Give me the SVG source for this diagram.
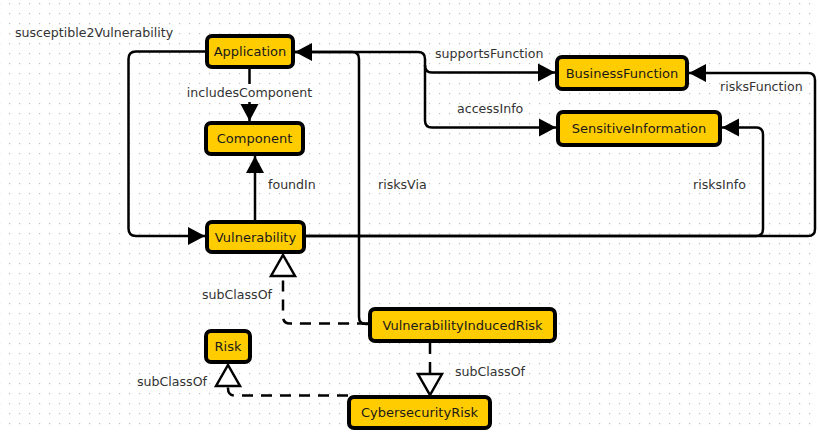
<svg xmlns="http://www.w3.org/2000/svg" width="818" height="433" viewBox="0 0 818 433">
<style>
.node rect{fill:#FFCC00;stroke:#000;stroke-width:4}
.node text{font-family:"DejaVu Sans",Verdana,sans-serif;font-size:13px;fill:#1a1a1a;text-anchor:middle;dominant-baseline:central}
.edge{fill:none;stroke:#000;stroke-width:2.5}
.dash{stroke-dasharray:11 8}
.lbl{font-family:"DejaVu Sans",Verdana,sans-serif;font-size:12.6px;fill:#333}
</style>
<defs>
<pattern id="grid" patternUnits="userSpaceOnUse" x="9" y="13" width="10" height="10">
<rect x="0" y="0" width="1.2" height="1.2" fill="#bdbdbd"/>
</pattern>
<marker id="arr" markerUnits="userSpaceOnUse" markerWidth="18" markerHeight="18" refX="17" refY="9" orient="auto" overflow="visible">
<path d="M0,0 L17,9 L0,18 z" fill="#000"/>
</marker>
<marker id="tri" markerUnits="userSpaceOnUse" markerWidth="24" markerHeight="26" refX="21" refY="12" orient="auto" overflow="visible">
<path d="M0,0 L21,12 L0,24 z" fill="#fff" stroke="#000" stroke-width="2.5" stroke-linejoin="miter"/>
</marker>
</defs>
<rect width="818" height="433" fill="#fff"/>
<rect width="818" height="433" fill="url(#grid)"/>

<g id="connectors">
<g id="e-susceptible2Vulnerability">
<path class="edge" d="M207,51.5 H136 Q128.5,51.5 128.5,59 V228.5 Q128.5,236 136,236 H205" marker-end="url(#arr)"/>
<text class="lbl" x="15" y="37">susceptible2Vulnerability</text>
</g>
<g id="e-includesComponent">
<path class="edge" d="M249.5,69 V121" marker-end="url(#arr)"/>
<rect x="185" y="84" width="129" height="18" fill="#fff"/>
<text class="lbl" x="249.5" y="97" text-anchor="middle">includesComponent</text>
</g>
<g id="e-foundIn">
<path class="edge" d="M255,220 V156" marker-end="url(#arr)"/>
<text class="lbl" x="268" y="189">foundIn</text>
</g>
<g id="e-risksVia">
<path class="edge" d="M369,324 H366 Q359,324 359,317 V59 Q359,52 352,52 H295" marker-end="url(#arr)"/>
<text class="lbl" x="378" y="189">risksVia</text>
</g>
<g id="e-supportsFunction">
<path class="edge" d="M295,52 H418 Q425,52 425,59 V65.5 Q425,72.5 432,72.5 H555" marker-end="url(#arr)"/>
<text class="lbl" x="435" y="58">supportsFunction</text>
</g>
<g id="e-accessInfo">
<path class="edge" d="M425,65 V120.5 Q425,127.5 432,127.5 H556" marker-end="url(#arr)"/>
<text class="lbl" x="457" y="113">accessInfo</text>
</g>
<g id="e-risksFunction">
<path class="edge" d="M306,236 H808 Q815,236 815,229 V80 Q815,73 808,73 H689" marker-end="url(#arr)"/>
<text class="lbl" x="720" y="91">risksFunction</text>
</g>
<g id="e-risksInfo">
<path class="edge" d="M306,236 H756 Q763,236 763,229 V134.5 Q763,127.5 756,127.5 H722" marker-end="url(#arr)"/>
<text class="lbl" x="693" y="189">risksInfo</text>
</g>
<g id="e-subClassOf-1">
<path class="edge dash" d="M368,323.5 H290 Q283,323.5 283,316.5 V255" marker-end="url(#tri)"/>
<text class="lbl" x="202" y="299">subClassOf</text>
</g>
<g id="e-subClassOf-2">
<path class="edge dash" d="M430,343 V395" marker-end="url(#tri)"/>
<text class="lbl" x="455" y="376">subClassOf</text>
</g>
<g id="e-subClassOf-3">
<path class="edge dash" d="M348,395.5 H235 Q228,395.5 228,388.5 V365" marker-end="url(#tri)"/>
<text class="lbl" x="137" y="386">subClassOf</text>
</g>
</g>

<g id="n-Application" class="node"><rect x="207" y="36" width="86" height="31" rx="5"/><text x="250" y="51.5">Application</text></g>
<g id="n-Component" class="node"><rect x="206" y="123" width="97" height="31" rx="5"/><text x="254.5" y="138.5">Component</text></g>
<g id="n-Vulnerability" class="node"><rect x="207" y="222" width="97" height="30" rx="5"/><text x="255.5" y="237">Vulnerability</text></g>
<g id="n-BusinessFunction" class="node"><rect x="557" y="57" width="130" height="32" rx="5"/><text x="622" y="73">BusinessFunction</text></g>
<g id="n-SensitiveInformation" class="node"><rect x="558" y="112" width="162" height="33" rx="5"/><text x="639" y="128.5">SensitiveInformation</text></g>
<g id="n-VulnerabilityInducedRisk" class="node"><rect x="370" y="309" width="185" height="32" rx="5"/><text x="462.5" y="325">VulnerabilityInducedRisk</text></g>
<g id="n-Risk" class="node"><rect x="206" y="331" width="44" height="31" rx="5"/><text x="228" y="346.5">Risk</text></g>
<g id="n-CybersecurityRisk" class="node"><rect x="349" y="397" width="141" height="31" rx="5"/><text x="419.5" y="412.5">CybersecurityRisk</text></g>
</svg>
